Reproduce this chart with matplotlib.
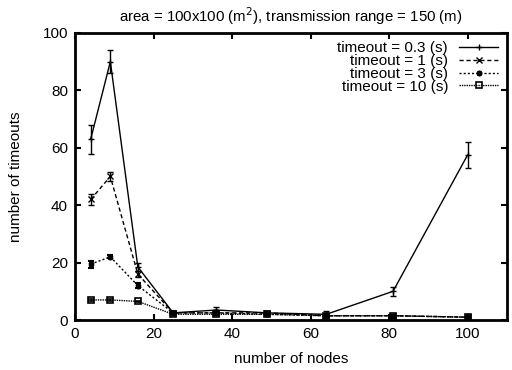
import matplotlib
matplotlib.use('Agg')
import matplotlib.pyplot as plt

plt.rcParams['font.family'] = ['Liberation Sans', 'DejaVu Sans']
plt.rcParams['font.size'] = 11

# data
nodes = [4, 9, 16, 25, 36, 49, 64, 81, 100]
t03 = [63, 90, 18.5, 2.5, 3.5, 2.5, 2, 10, 57.5]
t03_err = [5, 4, 1.5, 0.5, 1, 0.5, 1, 1.5, 4.5]
t1 = [42, 50, 16, 2.5, 2.5, 2.5, 1.5, 1.5, 1]
t1_err = [1.8, 1.5, 1, 0.4, 0.4, 0.4, 0.3, 0.3, 0.2]
t3 = [19.5, 22, 12, 2.5, 2.5, 2, 1.5, 1.5, 1]
t3_err = [1.2, 0.5, 0.8, 0.3, 0.3, 0.3, 0.2, 0.2, 0.2]
t10 = [7, 7, 6.5, 2, 2, 2, 1.5, 1.5, 1]
t10_err = [0.3, 0.3, 0.3, 0.2, 0.2, 0.2, 0.2, 0.2, 0.2]

labels = ['timeout = 0.3 (s)', 'timeout = 1 (s)', 'timeout = 3 (s)', 'timeout = 10 (s)']

fig = plt.figure(figsize=(5.12, 3.70), dpi=100)
ax = fig.add_axes([0.1465, 0.135, 0.8435, 0.776])

c1 = ax.errorbar(nodes, t03, yerr=t03_err, color='black', lw=1, ls='-', marker='+',
                 ms=4, capsize=2.5, elinewidth=1, label=labels[0])
c2 = ax.errorbar(nodes, t1, yerr=t1_err, color='black', lw=1, ls=(0, (3, 2)), marker='x',
                 ms=4, capsize=2.5, elinewidth=1, label=labels[1])
c3 = ax.errorbar(nodes, t3, yerr=t3_err, color='black', lw=1, ls=(0, (1.5, 1.5)), marker=(6, 2, 0),
                 ms=4, mew=1.5, capsize=2.5, elinewidth=1, label=labels[2])
c4 = ax.errorbar(nodes, t10, yerr=t10_err, color='black', lw=1, ls=(0, (1, 0.7)), marker='s',
                 ms=4.5, mfc='none', mew=1.2, capsize=2.5, elinewidth=1, label=labels[3])

ax.set_xlim(0, 110)
ax.set_ylim(0, 100)
ax.set_xticks([0, 20, 40, 60, 80, 100])
ax.set_yticks([0, 20, 40, 60, 80, 100])
ax.tick_params(direction='in', top=True, right=True, length=4, width=1.5, pad=5)
for s in ax.spines.values():
    s.set_linewidth(2)

ax.set_xlabel('number of nodes', labelpad=8)
ax.set_ylabel('number of timeouts', labelpad=14)
ax.set_title('area = 100x100 (m$^2$), transmission range = 150 (m)', fontsize=10.8, pad=8)

leg = ax.legend([c1[0], c2[0], c3[0], c4[0]], labels, loc='upper right', frameon=False,
                markerfirst=False, handlelength=2.6, labelspacing=-0.08,
                borderaxespad=0.15, handletextpad=0.7)
leg._legend_handle_box.get_children()[0].align = 'right'

fig.savefig('out.png', dpi=100)
